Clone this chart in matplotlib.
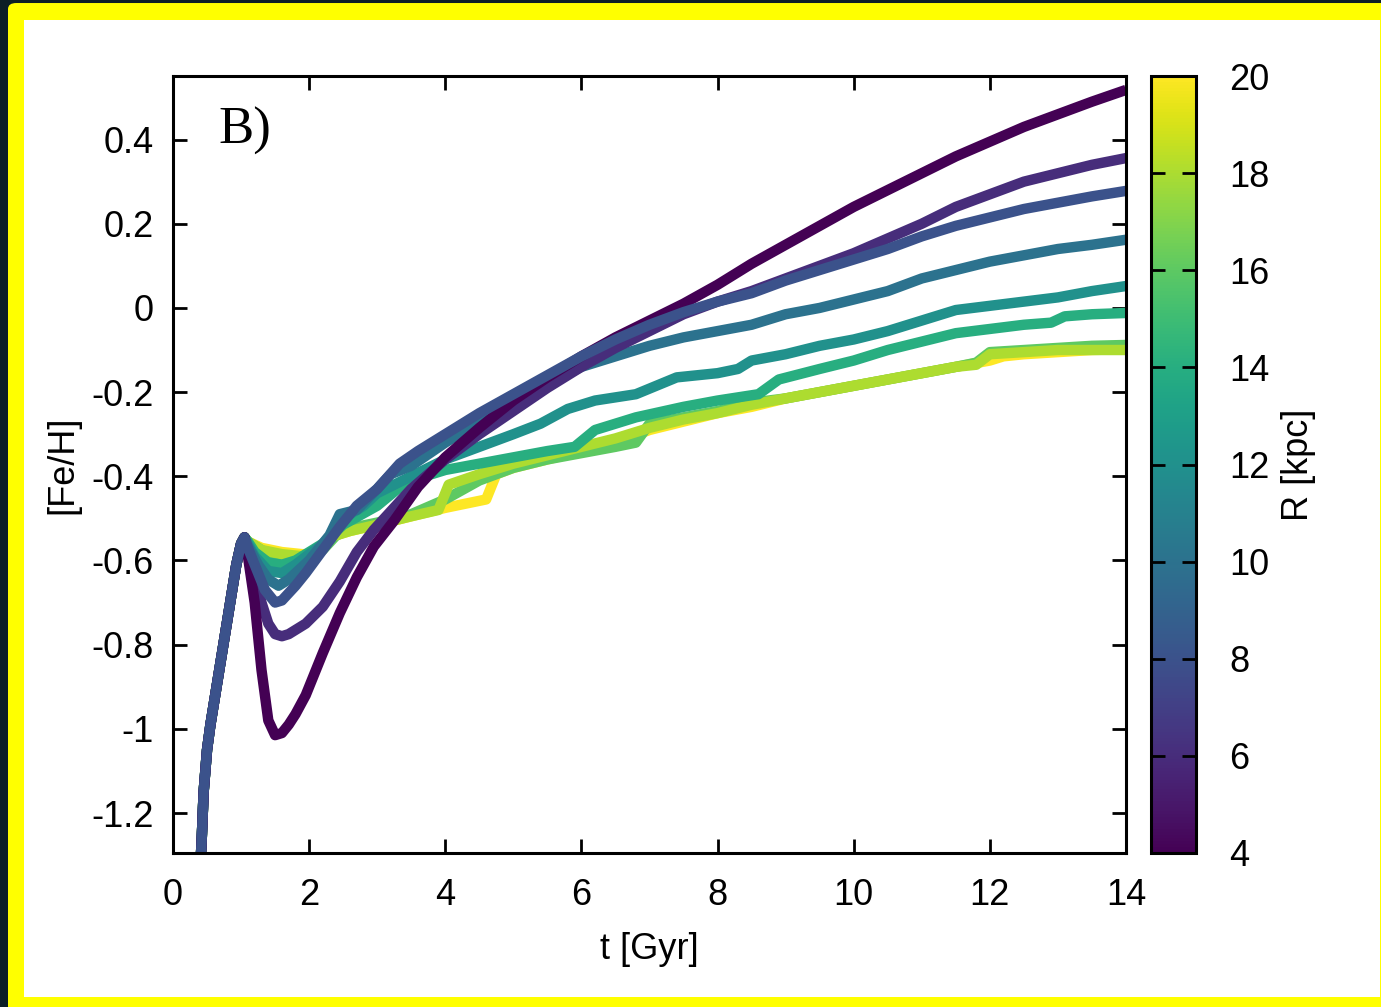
import numpy as np
import matplotlib.pyplot as plt
from matplotlib.patches import FancyBboxPatch, Rectangle
from matplotlib.colors import Normalize
from matplotlib.cm import ScalarMappable

FIG_W, FIG_H, DPI = 13.81, 10.07, 100

# galactocentric radii of the tracks [kpc]
radii = [4, 6, 8, 10, 12, 14, 16, 18, 20]

# early rise shared by all radii
t_rise = [0.36, 0.42, 0.45, 0.50, 0.55, 0.62, 0.72, 0.82, 0.93, 1.00, 1.05]
feh_rise = [-1.45, -1.27, -1.15, -1.05, -0.99, -0.92, -0.82, -0.72, -0.61, -0.56, -0.545]

# after the peak, one track per radius
t_r4 = [1.1, 1.2, 1.3, 1.4, 1.5, 1.6, 1.7, 1.8, 1.95, 2.2, 2.45, 2.7, 2.95, 3.25, 3.6, 4.0,
        4.5, 5.0, 5.5, 6.0, 6.5, 7.0, 7.5, 8.0, 8.5, 9.0, 9.5, 10.0, 10.5, 11.0, 11.5, 12.0,
        12.5, 13.0, 13.5, 14.0]
feh_r4 = [-0.59, -0.70, -0.86, -0.98, -1.015, -1.01, -0.99, -0.965, -0.92, -0.82, -0.725,
          -0.64, -0.567, -0.505, -0.425, -0.355, -0.285, -0.22, -0.165, -0.115, -0.07, -0.03,
          0.01, 0.055, 0.105, 0.15, 0.195, 0.24, 0.28, 0.32, 0.36, 0.395, 0.43, 0.46, 0.49, 0.518]

t_r6 = [1.1, 1.2, 1.3, 1.4, 1.5, 1.6, 1.7, 1.95, 2.2, 2.45, 2.7, 2.95, 3.5, 4.0, 4.5, 5.0,
        5.5, 6.0, 6.5, 7.0, 7.5, 8.0, 8.5, 9.0, 9.5, 10.0, 10.5, 11.0, 11.5, 12.0, 12.5, 13.0,
        13.5, 14.0]
feh_r6 = [-0.58, -0.63, -0.70, -0.75, -0.775, -0.78, -0.775, -0.75, -0.71, -0.65, -0.58,
          -0.527, -0.43, -0.36, -0.30, -0.245, -0.19, -0.14, -0.095, -0.055, -0.015, 0.015,
          0.04, 0.07, 0.10, 0.13, 0.165, 0.20, 0.24, 0.27, 0.30, 0.32, 0.34, 0.356]

t_r8 = [1.1, 1.2, 1.35, 1.5, 1.6, 1.8, 1.95, 2.2, 2.45, 2.7, 3.0, 3.33, 3.6, 4.0, 4.5, 5.0,
        5.5, 6.0, 6.5, 7.0, 7.5, 8.0, 8.5, 9.0, 9.5, 10.0, 10.5, 11.0, 11.5, 12.0, 12.5, 13.0,
        13.5, 14.0]
feh_r8 = [-0.57, -0.61, -0.67, -0.70, -0.695, -0.66, -0.63, -0.575, -0.52, -0.47, -0.43,
          -0.37, -0.34, -0.30, -0.25, -0.205, -0.16, -0.115, -0.075, -0.04, -0.01, 0.015,
          0.035, 0.065, 0.09, 0.115, 0.14, 0.17, 0.195, 0.215, 0.235, 0.25, 0.265, 0.278]

t_r10 = [1.1, 1.25, 1.4, 1.55, 1.7, 2.0, 2.3, 2.45, 2.7, 3.0, 3.2, 3.5, 4.0, 4.5, 5.0, 5.5,
         6.0, 6.5, 7.0, 7.5, 8.0, 8.5, 9.0, 9.5, 10.0, 10.5, 11.0, 11.5, 12.0, 12.5, 13.0,
         13.5, 14.0]
feh_r10 = [-0.565, -0.61, -0.645, -0.66, -0.645, -0.60, -0.54, -0.49, -0.48, -0.43, -0.395,
           -0.375, -0.32, -0.27, -0.225, -0.18, -0.14, -0.115, -0.09, -0.07, -0.055, -0.04,
           -0.015, 0.0, 0.02, 0.04, 0.07, 0.09, 0.11, 0.125, 0.14, 0.15, 0.162]

t_r12 = [1.1, 1.2, 1.4, 1.6, 1.8, 2.0, 2.3, 2.5, 2.8, 3.0, 3.5, 4.0, 4.5, 5.0, 5.4, 5.8,
         6.2, 6.8, 7.1, 7.4, 8.0, 8.3, 8.5, 9.0, 9.5, 10.0, 10.5, 11.0, 11.5, 12.0, 12.5,
         13.0, 13.5, 14.0]
feh_r12 = [-0.56, -0.59, -0.625, -0.63, -0.61, -0.585, -0.55, -0.50, -0.47, -0.44, -0.40,
           -0.36, -0.33, -0.30, -0.275, -0.24, -0.22, -0.205, -0.185, -0.165, -0.155, -0.145,
           -0.125, -0.11, -0.09, -0.075, -0.055, -0.03, -0.005, 0.005, 0.015, 0.025, 0.04, 0.052]

t_r14 = [1.1, 1.2, 1.4, 1.6, 1.8, 2.0, 2.2, 2.5, 3.0, 3.3, 3.7, 4.0, 4.5, 5.0, 5.5, 5.9,
         6.2, 6.8, 7.5, 8.0, 8.6, 8.9, 9.5, 10.0, 10.5, 11.0, 11.5, 12.0, 12.5, 12.9, 13.1,
         13.5, 14.0]
feh_r14 = [-0.555, -0.58, -0.605, -0.61, -0.60, -0.58, -0.56, -0.515, -0.47, -0.43, -0.40,
           -0.385, -0.37, -0.355, -0.34, -0.33, -0.29, -0.26, -0.235, -0.22, -0.205, -0.17,
           -0.145, -0.125, -0.10, -0.08, -0.06, -0.05, -0.04, -0.035, -0.02, -0.015, -0.012]

t_r16 = [1.1, 1.2, 1.4, 1.6, 1.8, 2.0, 2.2, 2.4, 2.7, 3.0, 3.5, 4.0, 4.5, 5.0, 5.5, 6.0,
         6.5, 6.8, 7.0, 7.5, 8.0, 8.5, 9.0, 9.5, 10.0, 10.5, 11.0, 11.5, 11.8, 12.0, 12.5,
         13.0, 13.5, 14.0]
feh_r16 = [-0.555, -0.565, -0.585, -0.59, -0.595, -0.59, -0.575, -0.54, -0.52, -0.51, -0.49,
           -0.455, -0.41, -0.38, -0.36, -0.345, -0.33, -0.32, -0.275, -0.26, -0.245, -0.225,
           -0.215, -0.20, -0.185, -0.17, -0.155, -0.14, -0.13, -0.105, -0.10, -0.095, -0.09, -0.088]

t_r18 = [1.1, 1.3, 1.6, 1.9, 2.1, 2.3, 2.6, 3.0, 3.5, 3.9, 4.05, 4.5, 5.0, 5.5, 6.0, 6.5,
         7.0, 7.5, 8.0, 8.5, 9.0, 9.5, 10.0, 10.5, 11.0, 11.5, 11.8, 12.0, 12.5, 13.0, 13.5, 14.0]
feh_r18 = [-0.555, -0.575, -0.585, -0.59, -0.59, -0.545, -0.53, -0.515, -0.495, -0.48, -0.42,
           -0.395, -0.37, -0.35, -0.33, -0.31, -0.285, -0.265, -0.25, -0.23, -0.215, -0.20,
           -0.185, -0.17, -0.155, -0.14, -0.135, -0.11, -0.105, -0.10, -0.10, -0.10]

t_r20 = [1.1, 1.3, 1.6, 1.9, 2.1, 2.3, 2.6, 3.0, 3.5, 4.0, 4.3, 4.6, 4.75, 5.0, 5.5, 6.0,
         6.5, 7.0, 7.5, 8.0, 8.5, 9.0, 9.5, 10.0, 10.5, 11.0, 11.5, 12.0, 12.2, 12.5, 13.0,
         13.5, 14.0]
feh_r20 = [-0.555, -0.57, -0.58, -0.585, -0.585, -0.545, -0.53, -0.515, -0.495, -0.475,
           -0.465, -0.455, -0.395, -0.38, -0.36, -0.34, -0.32, -0.29, -0.27, -0.25, -0.235,
           -0.215, -0.20, -0.185, -0.17, -0.155, -0.14, -0.125, -0.115, -0.11, -0.105, -0.10, -0.098]

tracks = {
    4: (t_r4, feh_r4), 6: (t_r6, feh_r6), 8: (t_r8, feh_r8),
    10: (t_r10, feh_r10), 12: (t_r12, feh_r12), 14: (t_r14, feh_r14),
    16: (t_r16, feh_r16), 18: (t_r18, feh_r18), 20: (t_r20, feh_r20),
}
draw_order = [20, 16, 18, 14, 12, 10, 6, 4, 8]

xticks = [0, 2, 4, 6, 8, 10, 12, 14]
yticks = [0.4, 0.2, 0, -0.2, -0.4, -0.6, -0.8, -1, -1.2]
ytick_labels = ["0.4", "0.2", "0", "-0.2", "-0.4", "-0.6", "-0.8", "-1", "-1.2"]
cticks = [4, 6, 8, 10, 12, 14, 16, 18, 20]

plt.rcParams['font.family'] = ['Liberation Sans', 'DejaVu Sans']
plt.rcParams['axes.unicode_minus'] = False

fig = plt.figure(figsize=(FIG_W, FIG_H), dpi=DPI, facecolor="#0c1f26")

# slide frame around the plot, kept behind the axes
fig.patches.append(FancyBboxPatch((8 / 1381, -0.02), 1.1, 1.017, boxstyle="round,pad=0,rounding_size=0.006",
                                  transform=fig.transFigure, facecolor="#ffff00", edgecolor="none", zorder=-2))
fig.patches.append(Rectangle((24 / 1381, 10 / 1007), (1380 - 24) / 1381, (997 - 20) / 1007,
                             transform=fig.transFigure, facecolor="white", edgecolor="none", zorder=-1))

ax = fig.add_axes([173 / 1381, 1 - 853 / 1007, (1126 - 173) / 1381, (853 - 76) / 1007])
ax.set_facecolor("white")
cax = fig.add_axes([1151 / 1381, 1 - 853 / 1007, 45 / 1381, (853 - 76) / 1007])

norm = Normalize(vmin=4, vmax=20)
cmap = plt.get_cmap("viridis")

for r in draw_order:
    t_after, feh_after = tracks[r]
    t = np.concatenate([t_rise, t_after])
    feh = np.concatenate([feh_rise, feh_after])
    ax.plot(t, feh, color=cmap(norm(r)), lw=7.5, solid_joinstyle="round", solid_capstyle="butt")

ax.set_xlim(0, 14)
ax.set_ylim(-1.295, 0.551)
ax.set_xticks(xticks)
ax.set_yticks(yticks)
ax.set_yticklabels(ytick_labels)
ax.tick_params(direction="in", top=True, right=True, length=10, width=2, labelsize=26, pad=14)
ax.tick_params(axis="x", pad=18)
for spine in ax.spines.values():
    spine.set_linewidth(2.2)
ax.set_xlabel("t [Gyr]", fontsize=26, labelpad=14)
ax.set_ylabel("[Fe/H]", fontsize=26, labelpad=8)
ax.text(0.048, 0.96, "B)", transform=ax.transAxes, fontsize=38, family="Liberation Serif",
        ha="left", va="top")

cb = fig.colorbar(ScalarMappable(norm=norm, cmap=cmap), cax=cax, ticks=cticks)
cb.outline.set_linewidth(2.2)
cax.tick_params(direction="in", left=True, right=True, length=10, width=2, labelsize=26, pad=24)
cb.set_label("R [kpc]", fontsize=26, labelpad=8)

fig.savefig("out.png", dpi=DPI, facecolor=fig.get_facecolor())
